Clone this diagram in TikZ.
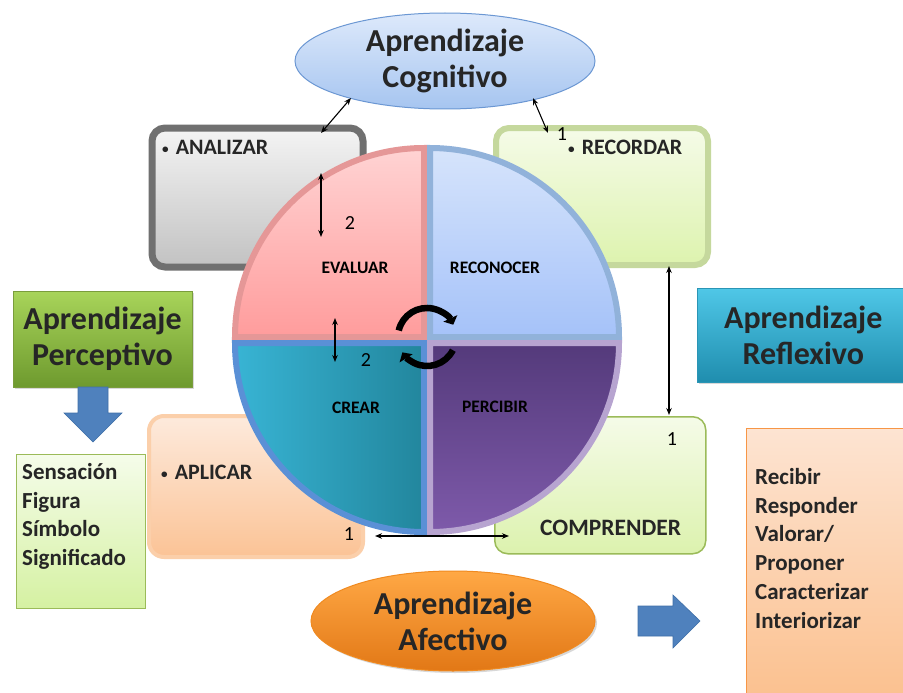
\documentclass[tikz,border=0pt]{standalone}
\usepackage{fontspec}
\setmainfont{Carlito}
\usetikzlibrary{arrows.meta,shadows,calc,shapes.geometric}

% palette
\definecolor{cogTop}{HTML}{DDE9FB}\definecolor{cogBot}{HTML}{A6C5F0}\definecolor{cogLine}{HTML}{6B97D3}
\definecolor{anaTop}{HTML}{F4F4F4}\definecolor{anaBot}{HTML}{C2C2C2}\definecolor{anaLine}{HTML}{707070}
\definecolor{recTop}{HTML}{F5FBE8}\definecolor{recBot}{HTML}{DDF3AE}\definecolor{recLine}{HTML}{C5D89D}
\definecolor{aplTop}{HTML}{FDEADC}\definecolor{aplBot}{HTML}{FBC396}\definecolor{aplLine}{HTML}{FBCFAA}
\definecolor{comTop}{HTML}{F5FBE8}\definecolor{comBot}{HTML}{DCF2AE}\definecolor{comLine}{HTML}{9BBB59}
\definecolor{perTop}{HTML}{A8D45A}\definecolor{perBot}{HTML}{6E9A2E}\definecolor{perLine}{HTML}{7A9D3C}
\definecolor{senTop}{HTML}{F5FCEA}\definecolor{senBot}{HTML}{D5F1A2}\definecolor{senLine}{HTML}{9BBB59}
\definecolor{refTop}{HTML}{4FC7E7}\definecolor{refBot}{HTML}{1F8DAE}\definecolor{refLine}{HTML}{2A95B5}
\definecolor{afeTop}{HTML}{FFA845}\definecolor{afeBot}{HTML}{E27816}\definecolor{afeLine}{HTML}{F08A20}
\definecolor{oraTop}{HTML}{FDE4D2}\definecolor{oraBot}{HTML}{FBBE8A}\definecolor{oraLine}{HTML}{F79646}
\definecolor{blk}{HTML}{4F81BD}\definecolor{blkLine}{HTML}{3F6FA8}
% wheel quarters
\definecolor{tlTop}{HTML}{FFD3D3}\definecolor{tlBot}{HTML}{FF9C9C}\definecolor{tlLine}{HTML}{E59797}
\definecolor{trTop}{HTML}{D6E4FB}\definecolor{trBot}{HTML}{A5C2F9}\definecolor{trLine}{HTML}{91B2DA}
\definecolor{blLeft}{HTML}{38B4D4}\definecolor{blRight}{HTML}{22869D}\definecolor{blLine}{HTML}{5A90D6}
\definecolor{brTop}{HTML}{543A7B}\definecolor{brBot}{HTML}{7E5AAA}\definecolor{brLine}{HTML}{B7A4D0}

% small list bullet
\newcommand{\smallbul}{\raisebox{0.1ex}{\scalebox{0.6}{\textbullet}}\hspace{7pt}}

\begin{document}
\begin{tikzpicture}[x=1pt,y=-1pt,
  box/.style={rectangle,anchor=north west,inner sep=0pt},
  softshadow/.style={drop shadow={shadow xshift=2pt,shadow yshift=-2pt,opacity=0.3}},
  biglbl/.style={font=\fontsize{32}{36}\selectfont\bfseries,align=center,text=black!85},
  item/.style={font=\fontsize{22}{26}\selectfont\bfseries,anchor=west,inner sep=0pt,text=black!85},
  qlbl/.style={font=\fontsize{17.5}{20}\selectfont\bfseries,inner sep=0pt},
  numlbl/.style={font=\fontsize{20}{24}\selectfont,inner sep=0pt},
  listtxt/.style={font=\fontsize{23}{28.8}\selectfont\bfseries,align=left,anchor=north west,inner sep=0pt,text=black!85},
  dbl/.style={{Stealth[length=7pt,width=5.5pt]}-{Stealth[length=7pt,width=5.5pt]},line width=1.1pt},
  cycarr/.style={line width=6.5pt,-{Triangle[length=7pt,width=15pt]}},
  blockarrow/.style={fill=blk,draw=blkLine,line width=0.6pt}
]
\useasboundingbox (0,0) rectangle (903,693);
\fill[white] (0,0) rectangle (903,693);

% ---- boxes behind the wheel ----
\node[box,draw=anaLine,line width=7pt,rounded corners=13pt,top color=anaTop,bottom color=anaBot,
      minimum width=211pt,minimum height=139pt,softshadow] (ana) at (148.5,124.5) {};
\node[box,draw=recLine,line width=6pt,rounded corners=13pt,top color=recTop,bottom color=recBot,
      minimum width=212pt,minimum height=137pt] (rec) at (493,125) {};
\node[box,draw=aplLine,line width=4pt,rounded corners=15pt,top color=aplTop,bottom color=aplBot,
      minimum width=214pt,minimum height=141pt] (apl) at (147,414) {};
\node[box,draw=comLine,line width=1.5pt,rounded corners=13pt,top color=comTop,bottom color=comBot,
      minimum width=211pt,minimum height=137pt] (com) at (494,416) {};

% ---- the wheel: four quarters with their own borders ----
\coordinate (C) at (427,340);
\path[draw=tlLine,line width=6pt,top color=tlTop,bottom color=tlBot]
  ($(C)+(-3,-3)$) -- ++(-189,0) arc[start angle=180,end angle=270,radius=189] -- cycle;
\path[draw=trLine,line width=6pt,top color=trTop,bottom color=trBot]
  ($(C)+(3,-3)$) -- ++(0,-189) arc[start angle=270,end angle=360,radius=189] -- cycle;
\path[draw=blLine,line width=6pt,left color=blLeft,right color=blRight]
  ($(C)+(-3,3)$) -- ++(0,189) arc[start angle=90,end angle=180,radius=189] -- cycle;
\path[draw=brLine,line width=6pt,top color=brTop,bottom color=brBot]
  ($(C)+(3,3)$) -- ++(189,0) arc[start angle=0,end angle=90,radius=189] -- cycle;

\node[qlbl] (evaluar)   at (355,268) {EVALUAR};
\node[qlbl] (reconocer) at (495,268) {RECONOCER};
\node[qlbl] (crear)     at (356,408) {CREAR};
\node[qlbl] (percibir)  at (495,407) {PERCIBIR};

% cycle symbol in the middle
\coordinate (cyc) at (427,337);
\draw[cycarr] ([shift={(193:29)}]cyc) arc[start angle=193,end angle=335,radius=29];
\draw[cycarr] ([shift={(27:29)}]cyc) arc[start angle=27,end angle=148,radius=29];

% ---- box texts ----
\node[item] (tana) at (162,147) {\smallbul ANALIZAR};
\node[item] (trec) at (568,147) {\smallbul RECORDAR};
\node[item] (tapl) at (161,472) {\smallbul APLICAR};
\node[item,font=\fontsize{23.5}{28}\selectfont\bfseries] (tcom) at (540,528) {COMPRENDER};

% ---- main headings ----
\node[ellipse,draw=cogLine,line width=1pt,top color=cogTop,bottom color=cogBot,
      minimum width=300pt,minimum height=96pt,inner sep=0pt,biglbl] (cog) at (445,61)
      {Aprendizaje\\Cognitivo};
\node[ellipse,draw=afeLine,line width=1pt,top color=afeTop,bottom color=afeBot,
      minimum width=284pt,minimum height=100pt,inner sep=0pt,biglbl,softshadow] (afe) at (453,621)
      {Aprendizaje\\Afectivo};
\node[box,draw=perLine,line width=1pt,top color=perTop,bottom color=perBot,
      minimum width=179pt,minimum height=96pt,biglbl,softshadow] (per) at (12.5,290.5)
      {Aprendizaje\\Perceptivo};
\node[box,draw=refLine,line width=0.6pt,top color=refTop,bottom color=refBot,
      minimum width=212pt,minimum height=94pt,biglbl,softshadow] (ref) at (697,288)
      {Aprendizaje\\Reflexivo};

% ---- side lists ----
\node[box,draw=senLine,line width=1.5pt,top color=senTop,bottom color=senBot,
      minimum width=129pt,minimum height=154pt] (sen) at (15.5,453.5) {};
\node[listtxt] (tsen) at (22,463) {Sensación\\Figura\\Símbolo\\Significado};
\node[box,draw=oraLine,line width=1.5pt,top color=oraTop,bottom color=oraBot,
      minimum width=190pt,minimum height=290pt] (ora) at (745.5,427.5) {};
\node[listtxt] (tora) at (755,468) {Recibir\\Responder\\Valorar/\\Proponer\\Caracterizar\\Interiorizar};

% ---- block arrows ----
\path[blockarrow] (78,387) -- (108,387) -- (108,413) -- (122,413) -- (93,442) -- (64,413) -- (78,413) -- cycle;
\path[blockarrow] (638,606) -- (673,606) -- (673,595) -- (700,621) -- (673,648) -- (673,636) -- (638,636) -- cycle;

% ---- connectors ----
\coordinate (anaTop) at (321,133);  \coordinate (cogL) at (351,98);
\coordinate (cogR) at (533,98);     \coordinate (recTopC) at (548,133);
\coordinate (e1) at (321,173);      \coordinate (e2) at (321,237);
\coordinate (c1) at (335,318);      \coordinate (c2) at (335,362);
\coordinate (recB) at (669,266);    \coordinate (comT) at (669,415);
\coordinate (aplR) at (375,536);    \coordinate (comL) at (509,536);
\draw[dbl] (anaTop) -- (cogL);
\draw[dbl] (cogR) -- (recTopC);
\draw[dbl] (e1) -- (e2);
\draw[dbl] (c1) -- (c2);
\draw[dbl] (recB) -- (comT);
\draw[dbl] (aplR) -- (comL);

% ---- numbers ----
\node[numlbl] (n1) at (562,134) {1};
\node[numlbl] (n2) at (350,223) {2};
\node[numlbl] (n3) at (366,360) {2};
\node[numlbl] (n4) at (672,439) {1};
\node[numlbl] (n5) at (349,534) {1};
\end{tikzpicture}
\end{document}
